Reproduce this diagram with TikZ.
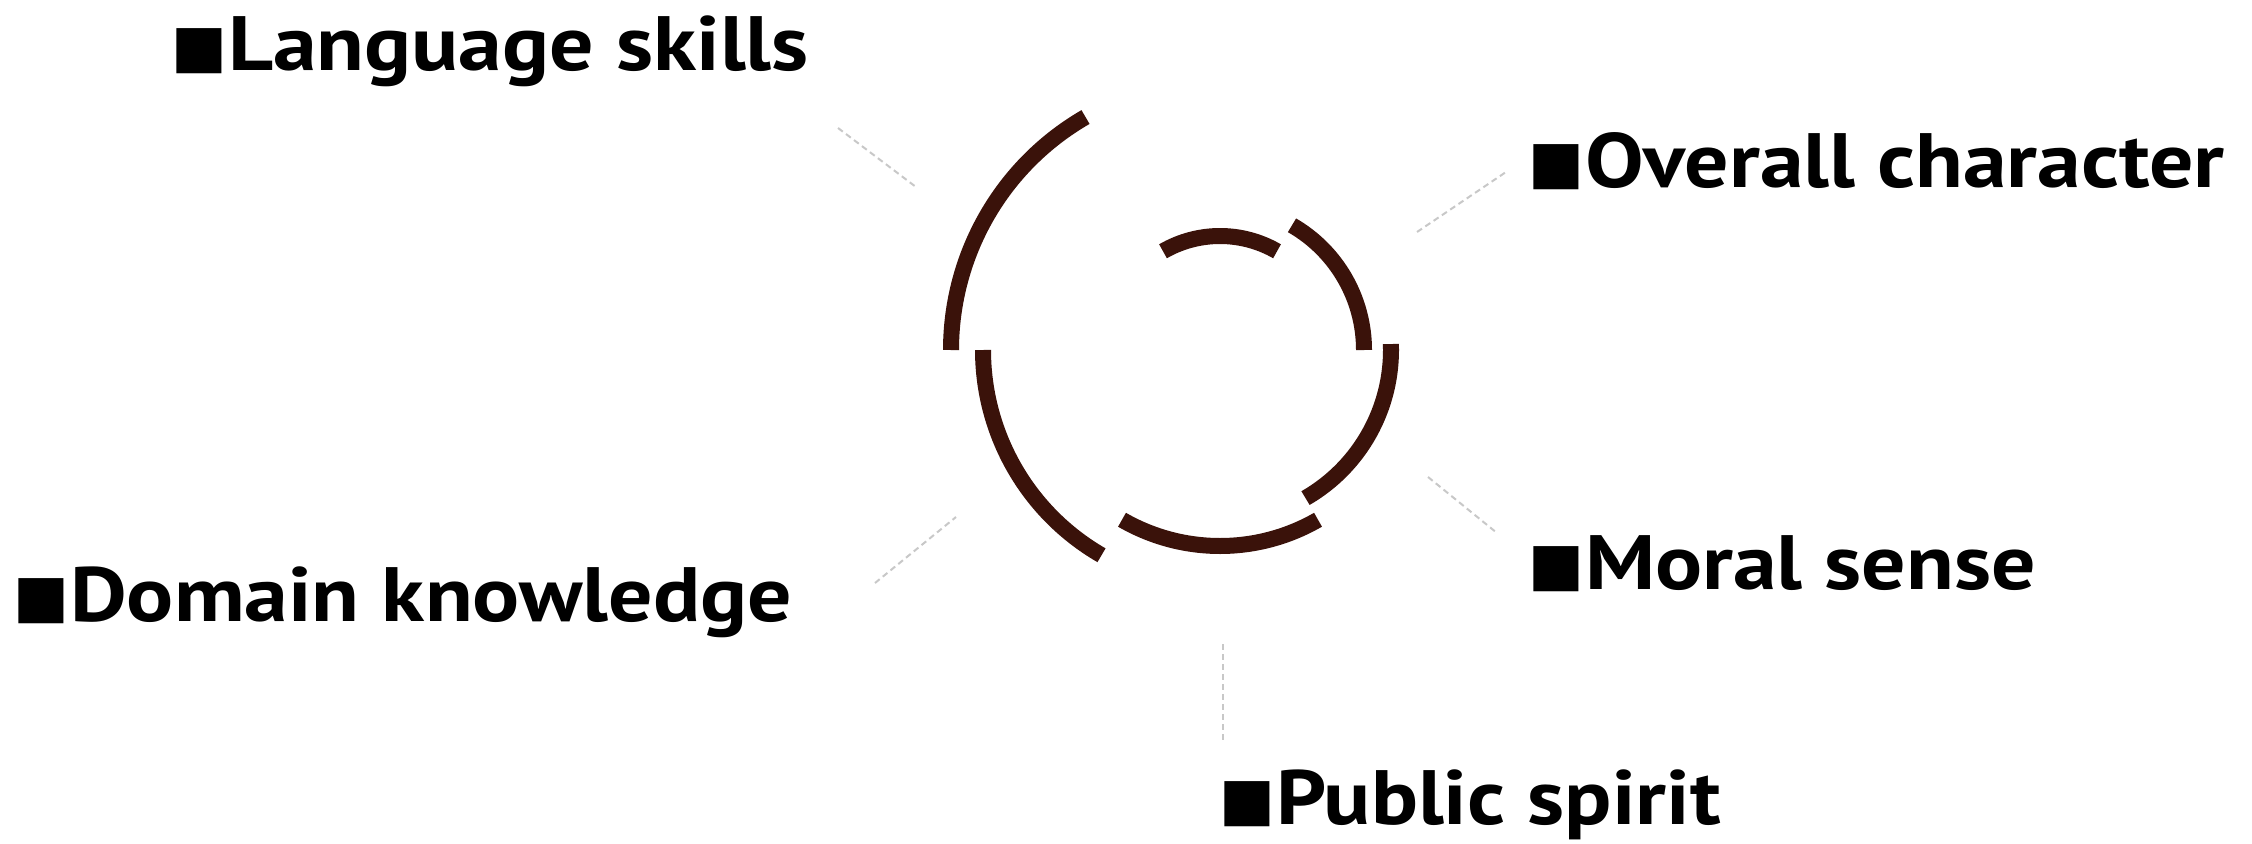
\documentclass[tikz,border=0pt]{standalone}
\usepackage{fontspec}
\setmainfont[FakeStretch=1.14]{PT Sans}
\newfontfamily\symfont{DejaVu Sans}
\definecolor{arcbrown}{RGB}{58,18,10}
\definecolor{dashgray}{RGB}{200,200,200}
\tikzset{
  ring/.style={draw=arcbrown, line width=8pt},
  guide/.style={draw=dashgray, line width=1pt, dash pattern=on 3pt off 2pt},
  lbl/.style={anchor=base west, inner sep=0pt, font=\bfseries\fontsize{38.5}{40}\selectfont},
}
\newcommand\sqmark{\raisebox{2.3pt}{\symfont\fontsize{29.5}{29.5}\selectfont■}\hspace{0.5pt}}
\begin{document}
\begin{tikzpicture}[x=0.5pt,y=0.5pt]
\useasboundingbox (0,0) rectangle (2252,843);
\coordinate (c) at (1220,493);
% arcs
\draw[ring] (c) ++(120:269) arc[start angle=120, end angle=180, radius=269];
\draw[ring] (c) ++(180:237) arc[start angle=180, end angle=240, radius=237];
\draw[ring] (c) ++(240:196) arc[start angle=240, end angle=300, radius=196];
\draw[ring] (c) ++(300:171) arc[start angle=300, end angle=362, radius=171];
\draw[ring] (c) ++(0:144) arc[start angle=0, end angle=60, radius=144];
\draw[ring] (c) ++(60:114) arc[start angle=60, end angle=120, radius=114];
% labels
\node[lbl] (lang) at (171,772) {\sqmark Language skills};
\node[lbl] (over) at (1528,655.5) {\sqmark Overall character};
\node[lbl] (moral) at (1528,253.5) {\sqmark Moral sense};
\node[lbl] (domain) at (13,222) {\sqmark Domain knowledge};
\node[lbl] (public) at (1219,19) {\sqmark Public spirit};
% guides
\coordinate (g1a) at (838,715); \coordinate (g1b) at (916,656);
\coordinate (g2a) at (875,260); \coordinate (g2b) at (956,326);
\coordinate (g3a) at (1417,611); \coordinate (g3b) at (1506,671);
\coordinate (g4a) at (1428,366); \coordinate (g4b) at (1497,310);
\coordinate (g5a) at (1223,199); \coordinate (g5b) at (1223,101);
\draw[guide] (g1a) -- (g1b);
\draw[guide] (g2a) -- (g2b);
\draw[guide] (g3a) -- (g3b);
\draw[guide] (g4a) -- (g4b);
\draw[guide] (g5a) -- (g5b);
\end{tikzpicture}
\end{document}
